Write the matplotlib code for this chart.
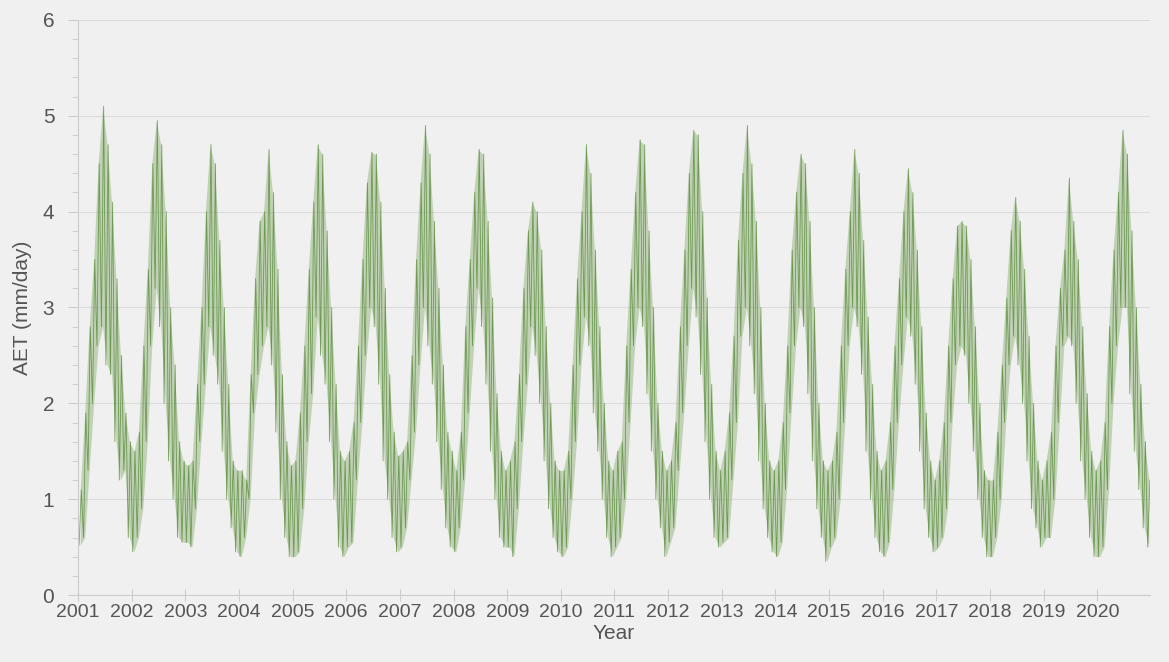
import numpy as np
import matplotlib
matplotlib.use("Agg")
import matplotlib.pyplot as plt
from matplotlib.ticker import MultipleLocator

plt.rcParams['font.family'] = ['Liberation Sans', 'DejaVu Sans']

years = list(range(2001, 2021))

# monthly lower envelope of daily AET (mm/day), Jan..Dec, one row per year
aet_low = [
    [0.52, 0.60, 1.3, 2.0, 2.6, 2.8, 2.4, 2.3, 1.6, 1.2, 1.3, 0.60],  # 2001
    [0.45, 0.60, 0.9, 1.6, 2.6, 3.2, 2.8, 2.0, 1.4, 1.0, 0.60, 0.55],  # 2002
    [0.55, 0.50, 0.9, 1.6, 2.2, 2.8, 2.5, 2.2, 1.5, 1.0, 0.70, 0.45],  # 2003
    [0.40, 0.60, 1.0, 1.9, 2.3, 2.6, 2.8, 2.4, 1.7, 1.0, 0.60, 0.40],  # 2004
    [0.40, 0.45, 0.9, 1.6, 2.1, 2.9, 2.5, 2.2, 1.6, 1.0, 0.50, 0.40],  # 2005
    [0.50, 0.55, 1.2, 1.8, 2.5, 3.0, 2.8, 2.2, 1.4, 1.0, 0.60, 0.45],  # 2006
    [0.50, 0.70, 1.2, 1.7, 2.4, 3.0, 2.6, 2.2, 1.6, 1.1, 0.70, 0.50],  # 2007
    [0.45, 0.70, 1.2, 1.9, 2.6, 3.2, 2.8, 2.2, 1.5, 1.0, 0.60, 0.50],  # 2008
    [0.50, 0.40, 0.9, 1.6, 2.2, 2.8, 2.5, 2.0, 1.4, 0.9, 0.60, 0.45],  # 2009
    [0.40, 0.50, 1.0, 1.6, 2.4, 2.9, 2.6, 1.9, 1.5, 1.0, 0.60, 0.40],  # 2010
    [0.50, 0.60, 1.0, 1.8, 2.6, 3.0, 2.8, 2.1, 1.5, 1.0, 0.70, 0.40],  # 2011
    [0.55, 0.70, 1.3, 1.9, 2.6, 3.2, 2.9, 2.3, 1.6, 1.0, 0.60, 0.50],  # 2012
    [0.55, 0.60, 1.2, 1.8, 2.7, 3.0, 2.6, 2.1, 1.4, 0.9, 0.60, 0.45],  # 2013
    [0.40, 0.55, 1.1, 1.9, 2.6, 3.0, 2.8, 2.1, 1.4, 0.9, 0.60, 0.35],  # 2014
    [0.50, 0.60, 1.0, 1.8, 2.6, 3.0, 2.8, 2.3, 1.5, 1.0, 0.60, 0.45],  # 2015
    [0.40, 0.55, 1.1, 1.8, 2.4, 2.9, 2.7, 2.2, 1.5, 0.9, 0.60, 0.45],  # 2016
    [0.50, 0.60, 0.9, 1.8, 2.4, 2.6, 2.5, 2.0, 1.5, 1.0, 0.60, 0.40],  # 2017
    [0.40, 0.60, 1.0, 1.8, 2.4, 2.7, 2.4, 2.0, 1.4, 0.9, 0.70, 0.50],  # 2018
    [0.60, 0.60, 1.0, 1.8, 2.6, 2.7, 2.6, 2.0, 1.4, 1.0, 0.60, 0.40],  # 2019
    [0.40, 0.50, 1.1, 2.0, 2.6, 3.0, 3.0, 2.1, 1.5, 1.1, 0.70, 0.50],  # 2020
]

# monthly upper envelope of daily AET (mm/day)
aet_high = [
    [1.1, 1.9, 2.8, 3.5, 4.5, 5.1, 4.7, 4.1, 3.3, 2.5, 1.9, 1.6],  # 2001
    [1.5, 1.7, 2.6, 3.4, 4.5, 4.95, 4.7, 4.0, 3.0, 2.4, 1.6, 1.4],  # 2002
    [1.35, 1.4, 2.2, 3.0, 4.0, 4.7, 4.5, 3.7, 3.0, 2.2, 1.4, 1.3],  # 2003
    [1.3, 1.2, 2.3, 3.3, 3.9, 4.0, 4.65, 4.2, 3.4, 2.3, 1.6, 1.35],  # 2004
    [1.4, 1.9, 2.6, 3.4, 4.1, 4.7, 4.6, 3.8, 3.0, 2.2, 1.5, 1.4],  # 2005
    [1.5, 1.8, 2.6, 3.5, 4.3, 4.62, 4.6, 4.1, 3.2, 2.3, 1.7, 1.45],  # 2006
    [1.5, 1.6, 2.5, 3.5, 4.3, 4.9, 4.6, 3.9, 3.2, 2.4, 1.7, 1.5],  # 2007
    [1.3, 1.7, 2.8, 3.5, 4.2, 4.65, 4.6, 3.9, 3.1, 2.1, 1.5, 1.3],  # 2008
    [1.4, 1.6, 2.3, 3.2, 3.8, 4.1, 4.0, 3.6, 2.8, 2.0, 1.4, 1.3],  # 2009
    [1.3, 1.5, 2.4, 3.3, 4.0, 4.7, 4.4, 3.6, 2.8, 2.0, 1.4, 1.3],  # 2010
    [1.5, 1.6, 2.6, 3.4, 4.2, 4.75, 4.7, 3.8, 3.0, 2.0, 1.5, 1.3],  # 2011
    [1.4, 1.8, 2.8, 3.6, 4.4, 4.85, 4.8, 4.0, 3.1, 2.2, 1.5, 1.3],  # 2012
    [1.5, 1.9, 2.7, 3.7, 4.4, 4.9, 4.5, 3.9, 3.0, 2.0, 1.4, 1.3],  # 2013
    [1.4, 1.8, 2.6, 3.6, 4.2, 4.6, 4.5, 3.9, 3.0, 2.0, 1.4, 1.3],  # 2014
    [1.4, 1.7, 2.6, 3.4, 4.0, 4.65, 4.4, 3.7, 2.9, 2.2, 1.5, 1.3],  # 2015
    [1.4, 1.8, 2.6, 3.3, 4.0, 4.45, 4.2, 3.6, 2.8, 1.9, 1.4, 1.2],  # 2016
    [1.4, 1.8, 2.6, 3.3, 3.85, 3.9, 3.85, 3.5, 2.8, 2.0, 1.3, 1.2],  # 2017
    [1.2, 1.7, 2.4, 3.1, 3.8, 4.15, 3.9, 3.4, 2.7, 2.0, 1.4, 1.2],  # 2018
    [1.4, 1.7, 2.6, 3.2, 3.6, 4.35, 3.9, 3.5, 2.8, 2.1, 1.5, 1.3],  # 2019
    [1.4, 1.8, 2.8, 3.6, 4.2, 4.85, 4.6, 3.8, 3.0, 2.2, 1.6, 1.2],  # 2020
]

# each month: low reading early in the month, high reading late in the month
t = []
v = []
tm = []
lo = []
hi = []
for i, yr in enumerate(years):
    for m in range(12):
        t.append(yr + (m + 0.25) / 12)
        v.append(aet_low[i][m])
        t.append(yr + (m + 0.75) / 12)
        v.append(aet_high[i][m])
        tm.append(yr + (m + 0.5) / 12)
        lo.append(aet_low[i][m])
        hi.append(aet_high[i][m])

fig = plt.figure(figsize=(11.69, 6.62), dpi=100, facecolor='#f0f0f0')
ax = fig.add_axes([0.0667, 0.1012, 0.917, 0.8686])
ax.set_facecolor('#f0f0f0')

# envelope band plus the zig-zag of readings
ax.fill_between(tm, lo, hi, color='#86ad6e', alpha=0.45, lw=0)
ax.plot(t, v, color='#4a8228', lw=0.6, alpha=0.7)

ax.set_xlim(2001, 2020.98)
ax.set_ylim(0, 6)
ax.set_xticks(years)
ax.set_xticklabels([str(y) for y in years])
ax.yaxis.set_major_locator(MultipleLocator(1))
ax.yaxis.set_minor_locator(MultipleLocator(0.2))
ax.grid(axis='y', which='major', color='#dcdcdc', lw=0.8)
ax.set_axisbelow(True)

for s in ['top', 'right']:
    ax.spines[s].set_visible(False)
for s in ['left', 'bottom']:
    ax.spines[s].set_color('#cccccc')
    ax.spines[s].set_linewidth(0.8)

ax.tick_params(axis='y', which='major', length=7, color='#cccccc', labelsize=15,
               labelcolor='#555555', pad=10)
ax.tick_params(axis='y', which='minor', length=4, color='#cccccc')
ax.tick_params(axis='x', which='major', direction='inout', length=9, color='#cccccc',
               labelsize=14, labelcolor='#555555', pad=2)

ax.set_xlabel('Year', fontsize=15, color='#555555', labelpad=2)
ax.set_ylabel('AET (mm/day)', fontsize=15, color='#555555', labelpad=8)

fig.savefig('out.png', dpi=100, facecolor=fig.get_facecolor())
